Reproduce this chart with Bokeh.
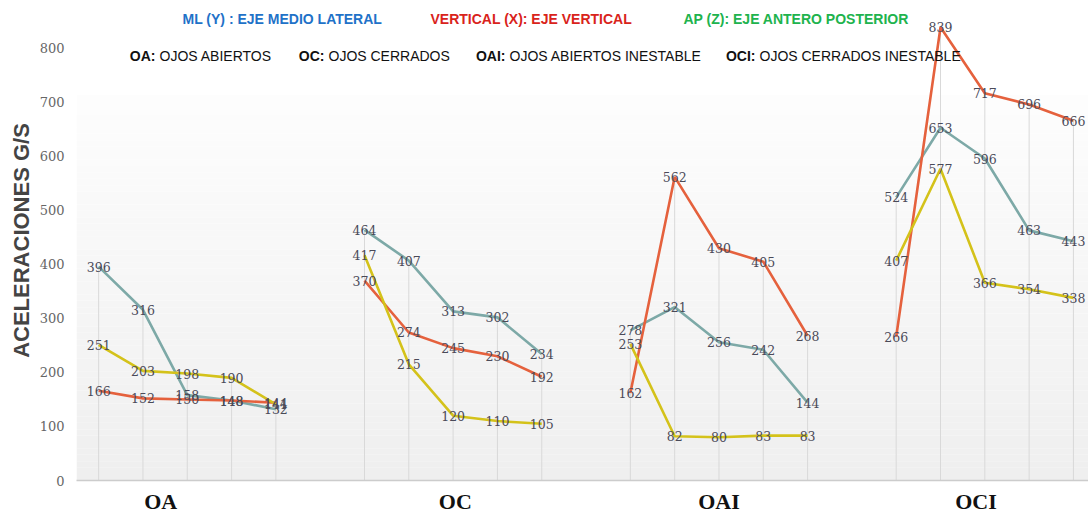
import numpy as np
from bokeh.plotting import figure
from bokeh.models import Range1d, FixedTicker, Label, ColumnDataSource
from bokeh.core.properties import value
from bokeh.embed import file_html
from bokeh.resources import INLINE

# ---------------- data ----------------
groups = ["OA", "OC", "OAI", "OCI"]
points_per_group = 5
ml = [396, 316, 158, 148, 132,
      464, 407, 313, 302, 234,
      278, 321, 256, 242, 144,
      524, 653, 596, 463, 443]
vert = [166, 152, 150, 148, 144,
        370, 274, 245, 230, 192,
        162, 562, 430, 405, 268,
        266, 839, 717, 696, 666]
ap = [251, 203, 198, 190, 141,
      417, 215, 120, 110, 105,
      253, 82, 80, 83, 83,
      407, 577, 366, 354, 338]
y_ticks = [0, 100, 200, 300, 400, 500, 600, 700, 800]
y_title = "ACELERACIONES G/S"
axis_legend = ["ML (Y) : EJE MEDIO LATERAL", "VERTICAL (X): EJE VERTICAL", "AP (Z): EJE ANTERO POSTERIOR"]
cond_prefix = ["OA:", "OC:", "OAI:", "OCI:"]
cond_text = ["OJOS ABIERTOS", "OJOS CERRADOS", "OJOS ABIERTOS INESTABLE", "OJOS CERRADOS INESTABLE"]

# ---------------- styles ----------------
C_ML = "#7da9a7"
C_VERT = "#e5613d"
C_AP = "#d4c21a"
LEG_COLORS = ["#1f72c8", "#d9231b", "#20b34d"]
gap = 1
label_shift = [-0.6, 0.05, 0.0, -0.2]

FRAME_LEFT = 76     # page px
FRAME_BOTTOM = 482  # page px

def sx(px):
    return px - FRAME_LEFT

def sy(py):
    return FRAME_BOTTOM - py

xs = []
for g in range(len(groups)):
    for j in range(points_per_group):
        xs.append(g * (points_per_group + gap) + j)
group_pos = [g * (points_per_group + gap) + (points_per_group - 1) / 2 + label_shift[g]
             for g in range(len(groups))]
group_pos = [round(v, 2) for v in group_pos]

W, H = 1088, 516
p = figure(width=W, height=H, x_range=Range1d(-0.5, 22.34), y_range=Range1d(0, 888.5),
           toolbar_location=None, output_backend="svg",
           min_border_left=FRAME_LEFT, min_border_right=0, min_border_top=0,
           min_border_bottom=H - FRAME_BOTTOM)
p.outline_line_color = None
p.background_fill_color = "white"
p.border_fill_color = "white"
p.xgrid.visible = False
p.ygrid.visible = False

# gradient background
n = 60
bg_top = 713
edges = np.linspace(0, bg_top, n + 1)
cols = []
for i in range(n):
    t = i / (n - 1)
    c = int(round(239 + (253 - 239) * t))
    cols.append("#%02x%02x%02x" % (c, c, c))
p.quad(left=-0.5, right=23, bottom=edges[:-1], top=edges[1:], fill_color=cols, line_color=None)

# drop lines
tops = [max(a, b, c) for a, b, c in zip(ml, vert, ap)]
p.segment(x0=xs, y0=[0] * len(xs), x1=xs, y1=tops, line_color="#d9d9d9", line_width=1)

# series
for g in range(len(groups)):
    sl = slice(g * points_per_group, (g + 1) * points_per_group)
    gx = xs[sl]
    p.line(gx, ml[sl], line_color=C_ML, line_width=2.6)
    p.line(gx, vert[sl], line_color=C_VERT, line_width=2.6)
    p.line(gx, ap[sl], line_color=C_AP, line_width=2.6)

for series in (ap, vert, ml):
    src = ColumnDataSource(dict(x=xs, y=series, t=[str(v) for v in series]))
    p.text(x="x", y="y", text="t", source=src, text_align="center", text_baseline="middle",
           text_font=value("DejaVu Serif"), text_font_size="12.5px", text_color="#4a4a58")

# axes
p.yaxis.ticker = FixedTicker(ticks=y_ticks)
p.yaxis.axis_line_color = None
p.yaxis.major_tick_line_color = None
p.yaxis.minor_tick_line_color = None
p.yaxis.major_tick_out = 0
p.yaxis.minor_tick_out = 0
p.yaxis.major_label_text_font = "DejaVu Serif"
p.yaxis.major_label_text_font_size = "13px"
p.yaxis.major_label_text_color = "#666666"
p.yaxis.major_label_standoff = 12
p.yaxis.axis_label = y_title
p.yaxis.axis_label_text_font = "Liberation Sans"
p.yaxis.axis_label_text_font_style = "bold"
p.yaxis.axis_label_text_font_size = "22px"
p.yaxis.axis_label_text_color = "#444444"
p.yaxis.axis_label_standoff = 3

p.xaxis.ticker = FixedTicker(ticks=group_pos)
p.xaxis.major_label_overrides = {v: name for v, name in zip(group_pos, groups)}
p.xaxis.axis_line_color = "#cccccc"
p.xaxis.axis_line_width = 1.5
p.xaxis.major_tick_line_color = None
p.xaxis.minor_tick_line_color = None
p.xaxis.major_tick_out = 0
p.xaxis.minor_tick_out = 0
p.xaxis.major_label_text_font = "Liberation Serif"
p.xaxis.major_label_text_font_style = "bold"
p.xaxis.major_label_text_font_size = "22px"
p.xaxis.major_label_text_color = "#111111"
p.xaxis.major_label_standoff = 8

# legend line 1
leg_x = [182, 430, 683]
for t, c, x in zip(axis_legend, LEG_COLORS, leg_x):
    p.add_layout(Label(x=sx(x), y=sy(20), x_units="screen", y_units="screen", text=t,
                       text_align="left", text_baseline="middle",
                       text_font="Liberation Sans", text_font_style="bold",
                       text_font_size="14px", text_color=c))

# legend line 2
split_x = [155, 324, 505, 755]
for pre, rest, x in zip(cond_prefix, cond_text, split_x):
    p.add_layout(Label(x=sx(x), y=sy(57), x_units="screen", y_units="screen", text=pre,
                       text_align="right", text_baseline="middle",
                       text_font="Liberation Sans", text_font_style="bold",
                       text_font_size="14px", text_color="#111111"))
    p.add_layout(Label(x=sx(x + 4), y=sy(57), x_units="screen", y_units="screen", text=rest,
                       text_align="left", text_baseline="middle",
                       text_font="Liberation Sans", text_font_size="14px",
                       text_color="#111111"))

open("out.html", "w").write(file_html(p, INLINE))
